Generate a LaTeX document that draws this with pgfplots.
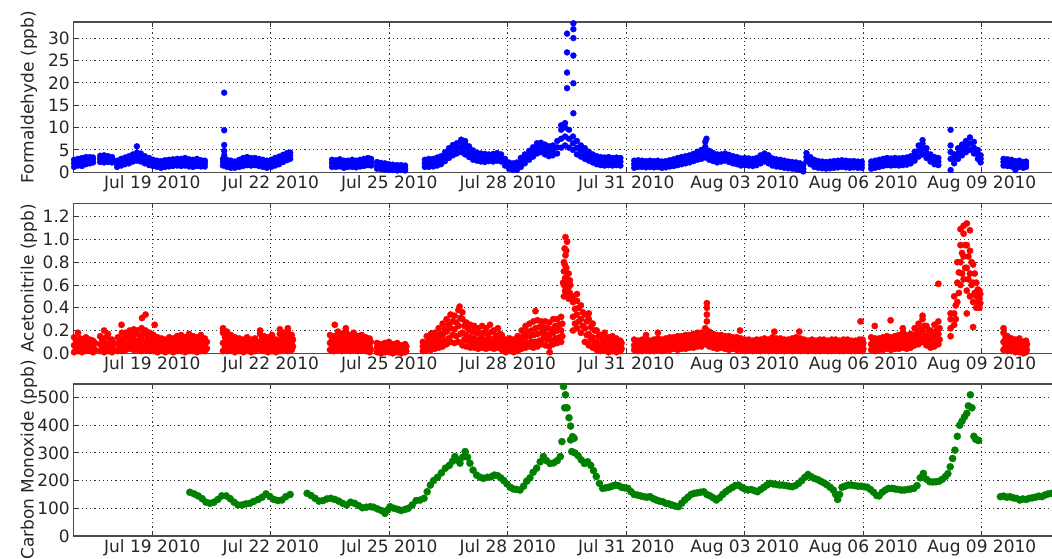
\documentclass[border=0pt]{standalone}
\usepackage{fontspec}
\setmainfont{DejaVu Sans}
\usepackage{pgfplots}
\usepackage{pgfplotstable}
\pgfplotsset{compat=1.18}

% Formaldehyde: band of points (lower, middle, upper edge of the cloud)
\pgfplotstableread{
d lo mid hi
-1.98 1.2 2.0 2.8
-1.88 1.5 2.3 3.0
-1.78 1.4 2.2 3.2
-1.68 1.8 2.6 3.4
-1.58 2.0 2.8 3.4
-1.50 2.2 2.9 3.3
-1.32 2.3 3.0 3.7
-1.22 2.2 3.0 3.8
-1.12 2.3 3.0 3.6
-1.02 2.2 2.8 3.4
-0.89 1.2 1.8 2.6
-0.79 1.5 2.3 3.0
-0.69 1.8 2.6 3.3
-0.59 2.0 2.9 3.6
-0.49 2.4 3.2 4.0
-0.39 2.6 3.5 4.4
-0.29 2.4 3.3 4.2
-0.19 2.0 2.8 3.6
-0.08 1.6 2.4 3.2
0.02 1.4 2.2 2.8
0.12 1.2 2.0 2.6
0.22 1.0 1.8 2.5
0.32 1.2 2.0 2.7
0.42 1.3 2.0 2.8
0.52 1.4 2.2 2.9
0.63 1.5 2.3 3.0
0.73 1.4 2.2 3.0
0.83 1.5 2.3 3.2
0.93 1.3 2.1 2.9
1.03 1.2 2.0 2.8
1.13 1.4 2.2 3.0
1.23 1.3 2.0 2.7
1.33 1.3 2.0 2.6
1.79 1.5 2.3 3.0
1.89 1.2 2.0 2.8
1.99 1.0 1.8 2.6
2.09 1.0 1.7 2.4
2.20 1.2 2.0 2.8
2.30 1.4 2.3 3.2
2.40 1.6 2.5 3.4
2.50 1.5 2.4 3.2
2.60 1.6 2.4 3.2
2.70 1.4 2.2 3.0
2.80 1.2 2.0 2.8
2.90 1.0 1.8 2.6
3.01 1.2 2.0 2.8
3.11 1.5 2.3 3.2
3.21 1.8 2.7 3.5
3.31 2.3 3.1 3.9
3.41 2.7 3.5 4.3
3.49 3.0 3.7 4.4
4.55 1.2 2.0 2.8
4.65 1.2 2.0 2.7
4.75 1.3 2.1 2.9
4.85 1.0 1.8 2.6
4.95 1.2 1.9 2.6
5.06 1.2 2.0 2.8
5.16 1.1 1.8 2.6
5.26 1.3 2.0 2.8
5.36 1.4 2.2 3.0
5.46 1.6 2.4 3.2
5.54 1.5 2.3 3.0
5.69 0.8 1.5 2.3
5.79 0.7 1.4 2.1
5.89 0.6 1.3 2.0
5.99 0.5 1.2 1.8
6.09 0.5 1.1 1.7
6.20 0.4 1.0 1.6
6.30 0.5 1.0 1.6
6.40 0.4 0.9 1.5
6.90 1.2 2.0 2.8
7.00 1.2 2.1 3.0
7.11 1.3 2.2 3.0
7.21 1.5 2.4 3.3
7.31 1.8 2.7 3.6
7.41 2.5 3.5 4.5
7.51 3.2 4.3 5.4
7.61 3.8 5.0 6.1
7.71 4.2 5.4 6.5
7.82 4.5 5.6 6.8
7.92 4.0 5.2 6.4
8.02 3.4 4.5 5.8
8.12 2.8 3.8 4.9
8.22 2.6 3.5 4.4
8.32 2.4 3.3 4.2
8.42 2.3 3.2 4.1
8.52 2.5 3.3 4.0
8.63 2.4 3.2 4.1
8.73 2.6 3.4 4.3
8.83 2.4 3.2 4.0
8.93 1.5 2.3 3.0
9.03 0.8 1.5 2.2
9.13 0.5 1.2 2.0
9.23 0.5 1.3 2.2
9.33 1.2 2.2 3.2
9.43 2.0 3.0 4.0
9.54 2.8 3.8 4.8
9.64 3.5 4.6 5.6
9.74 4.2 5.4 6.5
9.84 4.5 5.6 6.6
9.94 4.0 5.0 6.2
10.04 3.6 4.7 5.8
10.14 3.8 5.0 6.0
10.25 4.2 5.6 7.0
10.35 5.5 7.5 9.5
10.45 6.0 8.0 10.0
10.55 5.5 7.5 9.5
10.65 5.0 6.5 8.0
10.75 4.0 5.5 7.0
10.85 3.5 4.8 6.0
10.95 3.0 4.2 5.4
11.05 2.6 3.6 4.6
11.15 2.2 3.1 4.0
11.25 1.8 2.7 3.6
11.35 1.6 2.5 3.4
11.45 1.5 2.4 3.3
11.55 1.6 2.5 3.4
11.65 1.5 2.4 3.2
11.75 1.6 2.5 3.3
11.85 1.5 2.4 3.2
12.20 1.0 1.8 2.6
12.30 1.2 2.0 2.7
12.40 1.2 1.9 2.6
12.50 1.1 1.8 2.5
12.60 1.2 1.9 2.6
12.70 1.1 1.8 2.5
12.80 1.2 1.9 2.6
12.90 1.0 1.7 2.4
13.00 1.1 1.8 2.5
13.10 1.3 2.0 2.7
13.20 1.4 2.1 2.9
13.30 1.6 2.4 3.2
13.40 1.8 2.6 3.4
13.50 2.0 2.8 3.6
13.60 2.2 3.0 3.8
13.70 2.5 3.3 4.1
13.80 2.8 3.7 4.6
13.90 3.0 4.0 5.0
14.00 3.3 4.5 5.7
14.10 2.8 3.8 4.8
14.20 2.5 3.4 4.3
14.30 2.2 3.1 4.0
14.40 2.4 3.2 4.0
14.50 2.6 3.4 4.2
14.60 2.3 3.1 3.9
14.70 2.0 2.8 3.6
14.80 1.8 2.6 3.4
14.90 1.5 2.3 3.1
15.00 1.6 2.4 3.2
15.10 1.5 2.3 3.1
15.20 1.4 2.2 3.0
15.30 1.6 2.4 3.2
15.40 2.0 2.9 3.8
15.50 2.4 3.3 4.2
15.60 2.0 2.9 3.8
15.70 1.5 2.3 3.1
15.80 1.3 2.1 2.9
15.90 1.2 2.0 2.8
16.00 1.0 1.8 2.6
16.10 0.9 1.6 2.4
16.20 0.8 1.5 2.3
16.30 0.7 1.4 2.2
16.40 0.5 1.2 2.0
16.48 0.2 0.8 1.6
16.56 2.5 3.4 4.3
16.66 1.8 2.6 3.4
16.76 1.2 2.0 2.8
16.86 1.0 1.7 2.5
16.96 0.9 1.6 2.4
17.06 0.8 1.6 2.3
17.16 0.9 1.7 2.4
17.26 1.0 1.8 2.5
17.36 1.1 1.9 2.6
17.46 1.2 2.0 2.7
17.56 1.1 1.9 2.6
17.66 1.0 1.8 2.5
17.76 1.1 1.8 2.5
17.86 1.0 1.7 2.4
17.96 1.0 1.7 2.4
18.20 0.8 1.6 2.4
18.30 1.0 1.8 2.6
18.40 1.2 2.0 2.8
18.50 1.4 2.2 3.0
18.60 1.6 2.4 3.2
18.70 1.5 2.3 3.1
18.80 1.6 2.4 3.2
18.90 1.5 2.3 3.1
19.00 1.6 2.4 3.2
19.10 1.7 2.5 3.3
19.20 2.0 2.8 3.6
19.30 2.6 3.6 4.6
19.40 3.5 4.8 6.0
19.50 4.0 5.2 6.4
19.60 3.2 4.3 5.4
19.70 2.4 3.2 4.0
19.80 1.8 2.6 3.4
19.90 1.6 2.4 3.2
20.30 2.0 3.0 4.0
20.40 3.0 4.2 5.4
20.50 3.8 5.0 6.2
20.60 4.5 5.8 7.0
20.70 5.0 6.4 7.8
20.80 4.2 5.5 6.8
20.90 3.0 4.0 5.0
20.97 2.2 3.0 3.8
21.55 1.5 2.3 3.0
21.65 1.4 2.2 2.9
21.75 1.3 2.0 2.8
21.85 0.5 1.5 2.5
21.95 1.2 1.9 2.6
22.05 1.0 1.7 2.3
22.12 1.2 1.8 2.4
}\fdata

\pgfplotstableread{
d v
-0.39 5.8
1.82 17.8
1.82 9.4
1.82 6.1
1.82 4.8
1.82 3.8
7.82 7.3
7.92 7.0
10.35 10.5
10.45 11.0
10.50 31.0
10.50 26.8
10.50 22.3
10.50 18.8
10.66 33.3
10.66 32.0
10.66 30.0
10.66 26.1
10.66 19.9
10.66 13.2
14.00 6.8
14.03 7.5
19.50 7.2
20.21 0.5
20.21 3.0
20.21 4.5
20.21 6.0
20.21 9.5
}\fext

% Acetonitrile: d = time of lo/mid/hi points, e = time of q1/q3 points
\pgfplotstableread{
d lo mid hi e q1 q3
-1.98 0.01 0.07 0.14 -1.93 0.04 0.11
-1.88 0.02 0.08 0.18 -1.83 0.05 0.13
-1.78 0.01 0.06 0.12 -1.73 0.03 0.10
-1.68 0.02 0.08 0.14 -1.63 0.05 0.11
-1.58 0.02 0.07 0.12 -1.53 0.04 0.10
-1.50 0.01 0.06 0.11 -1.45 0.03 0.09
-1.32 0.02 0.08 0.15 -1.27 0.05 0.12
-1.22 0.01 0.09 0.20 -1.17 0.05 0.14
-1.12 0.02 0.08 0.17 -1.07 0.05 0.12
-1.02 0.01 0.06 0.12 -0.97 0.03 0.09
-0.87 0.02 0.08 0.14 -0.82 0.05 0.11
-0.77 0.02 0.08 0.18 -0.72 0.05 0.13
-0.67 0.03 0.10 0.18 -0.62 0.06 0.14
-0.57 0.04 0.11 0.20 -0.52 0.07 0.16
-0.47 0.03 0.12 0.21 -0.42 0.07 0.17
-0.37 0.03 0.11 0.20 -0.32 0.07 0.16
-0.27 0.02 0.12 0.22 -0.22 0.07 0.17
-0.17 0.03 0.11 0.20 -0.12 0.07 0.15
-0.07 0.02 0.10 0.18 -0.02 0.06 0.14
0.03 0.02 0.08 0.16 0.08 0.05 0.12
0.13 0.01 0.07 0.14 0.18 0.04 0.10
0.23 0.02 0.07 0.13 0.28 0.04 0.10
0.33 0.01 0.06 0.12 0.38 0.03 0.09
0.43 0.02 0.07 0.14 0.48 0.04 0.11
0.53 0.01 0.07 0.13 0.58 0.04 0.10
0.63 0.02 0.08 0.15 0.68 0.05 0.12
0.73 0.02 0.08 0.16 0.78 0.05 0.12
0.83 0.01 0.07 0.14 0.88 0.04 0.11
0.93 0.02 0.08 0.17 0.98 0.05 0.12
1.03 0.02 0.08 0.15 1.08 0.05 0.11
1.13 0.01 0.07 0.14 1.18 0.04 0.10
1.23 0.02 0.08 0.16 1.28 0.05 0.12
1.33 0.02 0.07 0.13 1.38 0.04 0.10
1.79 0.02 0.09 0.18 1.84 0.05 0.14
1.89 0.02 0.10 0.19 1.94 0.06 0.15
1.99 0.03 0.09 0.16 2.04 0.06 0.12
2.09 0.01 0.07 0.14 2.14 0.04 0.10
2.20 0.02 0.07 0.13 2.25 0.04 0.10
2.30 0.01 0.06 0.12 2.35 0.03 0.09
2.40 0.02 0.07 0.14 2.45 0.04 0.11
2.50 0.01 0.06 0.12 2.55 0.03 0.09
2.60 0.02 0.07 0.13 2.65 0.04 0.10
2.73 0.03 0.09 0.17 2.78 0.06 0.13
2.83 0.02 0.08 0.15 2.88 0.05 0.12
2.93 0.01 0.07 0.14 2.98 0.04 0.11
3.03 0.02 0.08 0.16 3.08 0.05 0.12
3.13 0.01 0.06 0.12 3.18 0.03 0.09
3.23 0.02 0.08 0.17 3.28 0.05 0.13
3.33 0.03 0.10 0.18 3.38 0.06 0.14
3.43 0.02 0.09 0.19 3.48 0.05 0.14
3.53 0.03 0.09 0.16 3.56 0.06 0.12
4.50 0.03 0.09 0.16 4.55 0.06 0.12
4.60 0.02 0.08 0.15 4.65 0.05 0.12
4.70 0.03 0.10 0.19 4.75 0.06 0.14
4.80 0.02 0.09 0.17 4.85 0.05 0.13
4.90 0.03 0.10 0.19 4.95 0.06 0.14
5.00 0.02 0.08 0.16 5.05 0.05 0.12
5.10 0.03 0.10 0.18 5.15 0.06 0.14
5.20 0.02 0.08 0.15 5.25 0.05 0.12
5.30 0.03 0.09 0.16 5.35 0.06 0.12
5.40 0.02 0.07 0.14 5.45 0.04 0.11
5.50 0.01 0.06 0.13 5.53 0.03 0.10
5.69 0.01 0.05 0.09 5.74 0.03 0.07
5.79 0.00 0.04 0.08 5.84 0.02 0.06
5.89 0.01 0.05 0.09 5.94 0.03 0.07
5.99 0.01 0.04 0.10 6.04 0.02 0.07
6.09 0.00 0.04 0.08 6.14 0.02 0.06
6.20 0.01 0.05 0.09 6.25 0.03 0.07
6.30 0.00 0.03 0.07 6.35 0.02 0.05
6.40 0.01 0.04 0.08 6.43 0.02 0.06
6.85 0.02 0.06 0.10 6.90 0.04 0.08
6.95 0.03 0.09 0.15 7.00 0.06 0.12
7.05 0.03 0.10 0.17 7.10 0.06 0.13
7.15 0.04 0.11 0.18 7.20 0.07 0.15
7.25 0.05 0.13 0.22 7.30 0.09 0.17
7.35 0.06 0.16 0.26 7.40 0.11 0.21
7.45 0.08 0.19 0.30 7.50 0.13 0.25
7.55 0.10 0.22 0.34 7.60 0.16 0.28
7.65 0.09 0.21 0.33 7.70 0.15 0.27
7.75 0.10 0.24 0.38 7.80 0.17 0.31
7.85 0.07 0.18 0.30 7.90 0.12 0.24
7.95 0.06 0.16 0.27 8.00 0.11 0.21
8.05 0.05 0.14 0.25 8.10 0.09 0.19
8.15 0.05 0.13 0.24 8.20 0.09 0.18
8.25 0.04 0.12 0.22 8.30 0.08 0.17
8.35 0.05 0.13 0.24 8.40 0.09 0.18
8.45 0.04 0.12 0.22 8.50 0.08 0.17
8.55 0.05 0.13 0.25 8.60 0.09 0.19
8.65 0.04 0.11 0.20 8.70 0.07 0.15
8.75 0.05 0.12 0.22 8.80 0.08 0.17
8.85 0.03 0.09 0.16 8.90 0.06 0.12
8.95 0.01 0.06 0.12 9.00 0.03 0.09
9.05 0.02 0.07 0.13 9.10 0.04 0.10
9.15 0.01 0.06 0.12 9.20 0.03 0.09
9.25 0.02 0.08 0.15 9.30 0.05 0.11
9.35 0.04 0.12 0.20 9.40 0.08 0.16
9.45 0.05 0.14 0.24 9.50 0.09 0.19
9.55 0.06 0.15 0.26 9.60 0.10 0.20
9.65 0.05 0.16 0.28 9.70 0.10 0.22
9.75 0.06 0.17 0.29 9.80 0.11 0.23
9.85 0.08 0.18 0.28 9.90 0.13 0.23
9.95 0.07 0.17 0.28 10.00 0.12 0.22
10.05 0.06 0.16 0.27 10.10 0.11 0.21
10.15 0.08 0.18 0.30 10.20 0.13 0.24
10.25 0.09 0.20 0.30 10.30 0.14 0.25
10.35 0.10 0.20 0.32 10.38 0.15 0.26
10.42 0.50 0.60 0.72 10.45 0.55 0.66
10.48 0.55 0.65 0.75 10.51 0.60 0.70
10.54 0.48 0.58 0.70 10.57 0.53 0.64
10.65 0.20 0.32 0.45 10.70 0.26 0.39
10.75 0.22 0.34 0.46 10.80 0.28 0.40
10.85 0.18 0.30 0.42 10.90 0.24 0.36
10.95 0.10 0.22 0.34 11.00 0.16 0.28
11.05 0.07 0.17 0.30 11.10 0.12 0.23
11.15 0.05 0.14 0.26 11.20 0.09 0.20
11.25 0.03 0.10 0.20 11.30 0.06 0.15
11.35 0.02 0.08 0.16 11.40 0.05 0.12
11.45 0.03 0.09 0.18 11.50 0.06 0.13
11.55 0.01 0.07 0.14 11.60 0.04 0.10
11.65 0.02 0.08 0.15 11.70 0.05 0.11
11.75 0.01 0.07 0.13 11.80 0.04 0.10
11.85 0.02 0.06 0.11 11.88 0.04 0.09
12.20 0.03 0.07 0.12 12.25 0.05 0.10
12.30 0.02 0.06 0.11 12.35 0.04 0.09
12.40 0.02 0.07 0.12 12.45 0.04 0.10
12.50 0.03 0.07 0.13 12.55 0.05 0.10
12.60 0.02 0.06 0.11 12.65 0.04 0.09
12.70 0.02 0.07 0.12 12.75 0.04 0.10
12.80 0.03 0.07 0.13 12.85 0.05 0.10
12.90 0.02 0.06 0.12 12.95 0.04 0.09
13.00 0.03 0.08 0.13 13.05 0.05 0.11
13.10 0.03 0.08 0.14 13.15 0.05 0.11
13.20 0.04 0.09 0.14 13.25 0.06 0.12
13.30 0.03 0.09 0.15 13.35 0.06 0.12
13.40 0.04 0.10 0.15 13.45 0.07 0.13
13.50 0.04 0.10 0.16 13.55 0.07 0.13
13.60 0.05 0.11 0.16 13.65 0.08 0.14
13.70 0.05 0.11 0.17 13.75 0.08 0.14
13.80 0.06 0.12 0.18 13.85 0.09 0.15
13.90 0.06 0.12 0.18 13.95 0.09 0.15
14.00 0.08 0.14 0.22 14.05 0.11 0.18
14.10 0.06 0.12 0.19 14.15 0.09 0.15
14.20 0.05 0.11 0.17 14.25 0.08 0.14
14.30 0.04 0.10 0.16 14.35 0.07 0.13
14.40 0.05 0.10 0.16 14.45 0.07 0.13
14.50 0.04 0.09 0.15 14.55 0.06 0.12
14.60 0.03 0.09 0.15 14.65 0.06 0.12
14.70 0.04 0.09 0.14 14.75 0.06 0.12
14.80 0.03 0.08 0.14 14.85 0.05 0.11
14.90 0.03 0.08 0.13 14.95 0.05 0.10
15.00 0.02 0.07 0.12 15.05 0.04 0.10
15.10 0.03 0.07 0.12 15.15 0.05 0.09
15.20 0.02 0.06 0.11 15.25 0.04 0.09
15.30 0.03 0.07 0.12 15.35 0.05 0.10
15.40 0.02 0.07 0.12 15.45 0.04 0.10
15.50 0.03 0.08 0.13 15.55 0.05 0.11
15.60 0.02 0.07 0.12 15.65 0.04 0.10
15.70 0.03 0.08 0.14 15.75 0.05 0.11
15.80 0.02 0.07 0.13 15.85 0.04 0.10
15.90 0.03 0.08 0.13 15.95 0.05 0.11
16.00 0.02 0.07 0.12 16.05 0.04 0.10
16.10 0.03 0.07 0.12 16.15 0.05 0.09
16.20 0.02 0.08 0.13 16.25 0.05 0.11
16.30 0.03 0.08 0.14 16.35 0.05 0.11
16.40 0.02 0.07 0.13 16.45 0.04 0.10
16.50 0.03 0.07 0.12 16.55 0.05 0.09
16.60 0.02 0.06 0.11 16.65 0.04 0.09
16.70 0.03 0.07 0.12 16.75 0.05 0.10
16.80 0.02 0.06 0.11 16.85 0.04 0.09
16.90 0.02 0.07 0.12 16.95 0.04 0.10
17.00 0.03 0.07 0.12 17.05 0.05 0.10
17.10 0.02 0.06 0.11 17.15 0.04 0.09
17.20 0.02 0.07 0.12 17.25 0.04 0.10
17.30 0.03 0.07 0.12 17.35 0.05 0.10
17.40 0.02 0.06 0.11 17.45 0.04 0.09
17.50 0.02 0.06 0.12 17.55 0.04 0.09
17.60 0.03 0.07 0.12 17.65 0.05 0.10
17.70 0.02 0.06 0.11 17.75 0.04 0.09
17.80 0.02 0.06 0.11 17.85 0.04 0.09
17.90 0.03 0.07 0.12 17.95 0.05 0.10
17.98 0.02 0.06 0.12 18.00 0.04 0.09
18.20 0.03 0.08 0.14 18.25 0.05 0.11
18.30 0.02 0.07 0.13 18.35 0.04 0.10
18.40 0.03 0.08 0.13 18.45 0.05 0.11
18.50 0.03 0.08 0.14 18.55 0.05 0.11
18.60 0.04 0.09 0.15 18.65 0.06 0.12
18.70 0.03 0.08 0.14 18.75 0.05 0.11
18.80 0.04 0.09 0.15 18.85 0.06 0.12
18.90 0.04 0.09 0.16 18.95 0.06 0.13
19.00 0.05 0.11 0.18 19.05 0.08 0.14
19.10 0.04 0.10 0.16 19.15 0.07 0.13
19.20 0.05 0.11 0.17 19.25 0.08 0.14
19.30 0.07 0.14 0.22 19.35 0.10 0.18
19.40 0.08 0.16 0.26 19.45 0.12 0.21
19.50 0.10 0.19 0.30 19.55 0.14 0.24
19.60 0.07 0.15 0.24 19.65 0.11 0.20
19.70 0.05 0.12 0.20 19.75 0.08 0.16
19.80 0.06 0.15 0.25 19.85 0.10 0.20
19.90 0.08 0.17 0.28 19.93 0.12 0.22
20.30 0.25 0.35 0.50 20.34 0.30 0.42
20.38 0.45 0.62 0.80 20.42 0.53 0.71
20.46 0.60 0.80 0.95 20.50 0.70 0.88
20.54 0.65 0.85 1.05 20.58 0.75 0.95
20.62 0.55 0.75 0.95 20.66 0.65 0.85
20.70 0.50 0.70 0.90 20.74 0.60 0.80
20.78 0.45 0.62 0.78 20.82 0.53 0.70
20.86 0.40 0.50 0.62 20.90 0.45 0.56
20.94 0.40 0.48 0.55 20.96 0.44 0.52
21.55 0.03 0.10 0.18 21.60 0.06 0.14
21.65 0.02 0.08 0.15 21.70 0.05 0.11
21.75 0.02 0.07 0.13 21.80 0.04 0.10
21.85 0.01 0.06 0.12 21.90 0.03 0.09
21.95 0.01 0.07 0.13 22.00 0.04 0.10
22.05 0.00 0.05 0.10 22.09 0.02 0.08
22.12 0.01 0.06 0.11 22.14 0.03 0.08
}\adata

\pgfplotstableread{
d v
-0.78 0.25
-0.26 0.31
-0.17 0.34
0.06 0.25
1.79 0.22
2.73 0.20
3.23 0.21
3.43 0.22
4.62 0.25
4.90 0.22
7.78 0.41
7.85 0.36
9.70 0.37
10.06 0.01
10.40 0.62
10.42 0.80
10.44 0.78
10.44 0.92
10.46 0.86
10.46 1.02
10.48 0.90
10.50 0.98
10.50 0.56
10.52 0.62
10.56 0.52
10.58 0.60
10.65 0.50
10.75 0.52
11.05 0.35
12.50 0.16
12.80 0.18
14.04 0.28
14.04 0.34
14.04 0.40
14.04 0.44
14.88 0.20
15.75 0.19
16.38 0.19
17.93 0.28
18.29 0.24
18.69 0.29
19.00 0.22
19.50 0.33
19.90 0.61
20.21 0.15
20.21 0.22
20.21 0.30
20.21 0.35
20.46 1.09
20.54 1.12
20.62 1.14
20.62 0.35
20.70 1.32
20.70 1.08
20.78 0.23
21.55 0.22
}\aext

% Carbon monoxide
\pgfplotstableread{
d v
0.95 158
1.06 152
1.16 145
1.26 135
1.36 122
1.46 118
1.56 122
1.66 132
1.76 145
1.87 145
1.97 135
2.07 122
2.17 112
2.27 112
2.37 116
2.47 118
2.57 125
2.68 132
2.78 140
2.88 152
2.98 142
3.08 132
3.18 128
3.28 130
3.38 142
3.49 150
3.92 154
4.02 146
4.12 136
4.22 126
4.32 128
4.42 134
4.52 136
4.62 132
4.72 126
4.82 118
4.92 112
5.02 122
5.12 118
5.22 110
5.32 102
5.42 104
5.52 106
5.60 104
5.70 98
5.80 92
5.89 82
5.96 94
6.02 106
6.12 100
6.22 96
6.30 92
6.40 96
6.48 100
6.58 112
6.68 128
6.78 130
6.88 136
6.96 160
7.04 184
7.12 200
7.22 212
7.32 228
7.42 245
7.52 255
7.60 270
7.66 287
7.72 275
7.79 263
7.86 285
7.92 305
7.98 285
8.04 263
8.12 238
8.21 220
8.30 212
8.38 208
8.48 212
8.58 214
8.66 220
8.74 218
8.82 210
8.90 200
8.98 188
9.06 176
9.14 170
9.22 168
9.31 166
9.40 180
9.48 198
9.56 210
9.64 230
9.73 245
9.82 268
9.90 287
9.98 272
10.07 262
10.16 264
10.25 272
10.33 287
10.41 540
10.46 510
10.44 463
10.50 463
10.55 427
10.59 397
10.64 359
10.59 347
10.37 341
10.68 353
10.62 305
10.70 300
10.78 290
10.86 275
10.94 262
11.02 268
11.10 255
11.17 236
11.24 215
11.32 190
11.40 172
11.48 174
11.56 176
11.64 180
11.72 184
11.80 182
11.88 176
11.96 174
12.04 172
12.12 160
12.20 150
12.28 148
12.36 145
12.44 142
12.52 140
12.60 142
12.68 135
12.76 130
12.84 126
12.92 124
13.00 118
13.08 116
13.16 112
13.24 108
13.32 106
13.40 118
13.48 130
13.56 140
13.64 150
13.72 154
13.80 156
13.88 158
13.96 160
14.04 150
14.12 145
14.20 138
14.28 130
14.36 138
14.44 150
14.52 160
14.60 168
14.68 175
14.76 182
14.84 184
14.92 176
15.00 170
15.08 166
15.16 168
15.24 164
15.32 160
15.40 168
15.48 176
15.56 184
15.64 190
15.72 188
15.80 186
15.88 184
15.96 184
16.04 182
16.12 180
16.20 178
16.28 182
16.36 190
16.44 200
16.52 212
16.60 222
16.68 214
16.76 208
16.84 204
16.92 198
17.00 192
17.08 185
17.16 176
17.24 166
17.30 150
17.35 132
17.40 150
17.46 176
17.54 180
17.62 184
17.70 184
17.78 182
17.86 180
17.94 180
18.02 178
18.10 176
18.18 168
18.26 158
18.34 146
18.40 145
18.48 158
18.56 166
18.64 172
18.72 172
18.80 170
18.88 168
18.96 166
19.04 166
19.12 168
19.20 170
19.28 172
19.36 182
19.44 210
19.52 226
19.60 205
19.68 196
19.76 195
19.84 196
19.92 198
20.00 205
20.08 215
20.14 225
20.20 250
20.26 280
20.32 310
20.38 360
20.44 400
20.50 415
20.56 430
20.62 443
20.66 470
20.71 510
20.75 463
20.80 360
20.84 350
20.88 347
20.92 345
21.47 142
21.55 144
21.63 140
21.71 142
21.79 138
21.87 136
21.96 130
22.04 134
22.12 132
22.20 136
22.28 138
22.36 140
22.44 144
22.52 142
22.60 148
22.68 152
22.76 154
22.84 150
22.92 148
}\cdata

\pgfplotsset{
  panel/.style={
    scale only axis,
    width=987.5pt,
    xmin=-2.0, xmax=23.0,
    ymin=0,
    xtick={0,3,6,9,12,15,18,21},
    xticklabels={Jul 19 2010,Jul 22 2010,Jul 25 2010,Jul 28 2010,Jul 31 2010,Aug 03 2010,Aug 06 2010,Aug 09 2010},
    grid=major,
    grid style={black!80, line width=0.9pt, dash pattern=on 1.2pt off 3pt},
    axis line style={black!70, line width=1.2pt},
    tick align=inside,
    major tick length=5pt,
    tick style={black!80, line width=0.9pt},
    tick label style={font=\fontsize{17}{20}\selectfont, text=black!85},
    /pgf/number format/assume math mode=true,
    every axis y label/.style={at={(axis description cs:-0.0449,0.5)}, rotate=90, anchor=center, font=\fontsize{17}{20}\selectfont, text=black!85},
    mk/.style={only marks, mark=*, mark size=3.0pt, mark options={line width=0.3pt}},
  },
}

\begin{document}
\begin{tikzpicture}
% Formaldehyde
\begin{axis}[panel, at={(73.3pt,386.7pt)}, anchor=south west, height=150.3pt,
  ymax=33.6, ytick={0,5,10,15,20,25,30},
  ylabel={Formaldehyde (ppb)}]
\addplot[mk, blue] table[x=d, y=lo] {\fdata};
\addplot[mk, blue] table[x=d, y=mid] {\fdata};
\addplot[mk, blue] table[x=d, y=hi] {\fdata};
\addplot[mk, blue] table[x=d, y=v] {\fext};
\end{axis}
% Acetonitrile
\begin{axis}[panel, at={(73.3pt,205.7pt)}, anchor=south west, height=150pt,
  ymax=1.317, ytick={0,0.2,0.4,0.6,0.8,1.0,1.2},
  yticklabel style={/pgf/number format/.cd, fixed, fixed zerofill, precision=1},
  ylabel={Acetonitrile (ppb)}]
\addplot[mk, mark size=3.2pt, red] table[x=d, y=lo] {\adata};
\addplot[mk, mark size=3.2pt, red] table[x=d, y=mid] {\adata};
\addplot[mk, mark size=3.2pt, red] table[x=d, y=hi] {\adata};
\addplot[mk, mark size=3.2pt, red] table[x=e, y=q1] {\adata};
\addplot[mk, mark size=3.2pt, red] table[x=e, y=q3] {\adata};
\addplot[mk, mark size=3.2pt, red] table[x=d, y=v] {\aext};
\end{axis}
% Carbon monoxide
\begin{axis}[panel, at={(73.3pt,23pt)}, anchor=south west, height=152pt,
  ymax=549, ytick={0,100,200,300,400,500},
  ylabel={Carbon Monoxide (ppb)}]
\addplot[mk, mark size=3.6pt, green!50!black] table[x=d, y=v] {\cdata};
\end{axis}
\pgfresetboundingbox
\useasboundingbox (0pt,0pt) rectangle (1052pt,559pt);
\end{tikzpicture}
\end{document}
